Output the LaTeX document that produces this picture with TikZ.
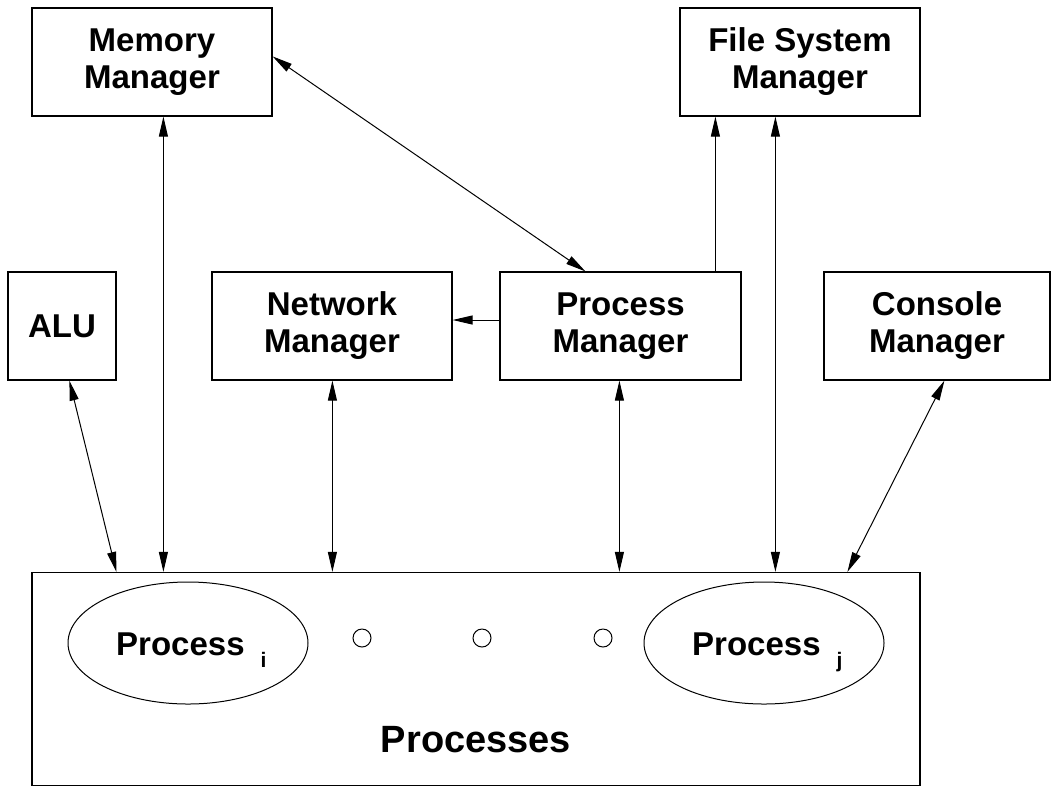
\documentclass[tikz,border=0pt]{standalone}
\usepackage{fontspec}
\setmainfont{Liberation Sans}
\usetikzlibrary{arrows.meta,calc,shapes.geometric}
\begin{document}
\begin{tikzpicture}[x=1pt,y=-1pt,
  >={Triangle[length=20pt,width=9pt]},
  box/.style={draw,line width=1.2pt,inner sep=0pt,align=center,
    font=\bfseries\fontsize{33}{37}\selectfont},
  proc/.style={draw,ellipse,line width=1pt,inner sep=0pt,minimum width=240pt,minimum height=122pt},
  dot/.style={draw,circle,line width=1pt,inner sep=0pt,minimum size=18pt},
  lbl/.style={inner sep=0pt,anchor=base west,font=\bfseries\fontsize{33}{37}\selectfont},
  conn/.style={line width=1pt}]
\useasboundingbox (0,0) rectangle (1056,788);
% boxes
\node[box,minimum width=240pt,minimum height=108pt] (mem) at (152,62) {Memory\\Manager};
\node[box,minimum width=240pt,minimum height=108pt] (fs) at (800,62) {File System\\Manager};
\node[box,minimum width=108pt,minimum height=108pt] (alu) at (62,326) {ALU};
\node[box,minimum width=240pt,minimum height=108pt] (net) at (332,326) {Network\\Manager};
\node[box,minimum width=241pt,minimum height=108pt] (proc) at (620.5,326) {Process\\Manager};
\node[box,minimum width=226pt,minimum height=108pt] (cons) at (937,326) {Console\\Manager};
\node[draw,line width=1.2pt,inner sep=0pt,minimum width=888pt,minimum height=213pt] (prs) at (476,679) {};
\node[inner sep=0pt,anchor=base,font=\bfseries\fontsize{38}{40}\selectfont] (prslbl) at (476,752) {Processes};
% processes inside
\node[proc] (pi) at (188,643) {};
\node[proc] (pj) at (764,643) {};
\node[lbl] (pitxt) at (116,655) {Process\hspace{16pt}\raisebox{-12pt}{\fontsize{21}{21}\selectfont i}};
\node[lbl] (pjtxt) at (692,655) {Process\hspace{16pt}\raisebox{-12pt}{\fontsize{21}{21}\selectfont j}};
\node[dot] (d1) at (362,638) {};
\node[dot] (d2) at (482,638) {};
\node[dot] (d3) at (603,638) {};
% connector end points
\coordinate (a1) at ($(alu.south west)+(62,0)$);
\coordinate (a2) at ($(prs.north west)+(85,0)$);
\coordinate (m1) at ($(mem.south west)+(132,0)$);
\coordinate (m2) at ($(prs.north west)+(132,0)$);
\coordinate (m3) at ($(mem.north east)+(0,49)$);
\coordinate (p1) at ($(proc.north west)+(86,0)$);
\coordinate (n1) at ($(net.south west)+(121,0)$);
\coordinate (n2) at ($(prs.north west)+(301,0)$);
\coordinate (p2) at ($(proc.west)+(0,-6)$);
\coordinate (n3) at ($(net.east)+(0,-6)$);
\coordinate (p3) at ($(proc.north west)+(216,0)$);
\coordinate (f1) at ($(fs.south west)+(36,0)$);
\coordinate (f2) at ($(fs.south west)+(96,0)$);
\coordinate (f3) at ($(prs.north west)+(744,0)$);
\coordinate (p4) at ($(proc.south west)+(120,0)$);
\coordinate (p5) at ($(prs.north west)+(588,0)$);
\coordinate (c1) at ($(cons.south west)+(121,0)$);
\coordinate (c2) at ($(prs.north west)+(816,0)$);
% connectors
\draw[conn,<->] (a1) -- (a2);
\draw[conn,<->] (m1) -- (m2);
\draw[conn,<->] (m3) -- (p1);
\draw[conn,<->] (n1) -- (n2);
\draw[conn,->] (p2) -- (n3);
\draw[conn,->] (p3) -- (f1);
\draw[conn,<->] (f2) -- (f3);
\draw[conn,<->] (p4) -- (p5);
\draw[conn,<->] (c1) -- (c2);
\end{tikzpicture}
\end{document}
